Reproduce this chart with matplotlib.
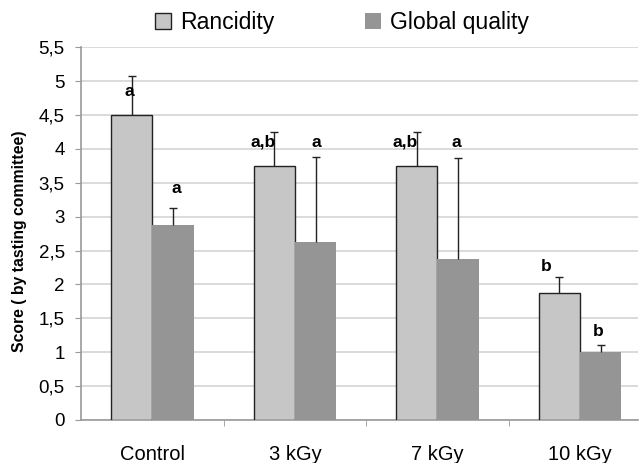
import matplotlib
matplotlib.use("Agg")
import matplotlib.pyplot as plt
from matplotlib.ticker import FuncFormatter, FixedLocator
from matplotlib.patches import Patch
import numpy as np

plt.rcParams['font.family'] = ['Liberation Sans', 'DejaVu Sans']

groups = ["Control", "3 kGy", "7 kGy", "10 kGy"]
rancidity = [4.5, 3.75, 3.75, 1.87]
rancidity_err = [0.57, 0.5, 0.5, 0.24]
global_q = [2.87, 2.63, 2.37, 1.0]
global_err = [0.26, 1.25, 1.49, 0.11]
rancidity_letters = ["a", "a,b", "a,b", "b"]
global_letters = ["a", "a", "a", "b"]

fig = plt.figure(figsize=(6.39, 4.63), dpi=100)
ax = fig.add_axes([0.127, 0.093, 0.872, 0.805])

x = np.arange(len(groups))
w = 0.29
ax.bar(x - w / 2, rancidity, w, color="#c6c6c6", edgecolor="#222222", linewidth=1.0, zorder=3)
ax.bar(x + w / 2, global_q, w, color="#959595", edgecolor="none", zorder=3)


def up_errors(xs, ys, errs):
    # only the upper half of the error bar, cap on top
    eb = ax.errorbar(xs, ys, yerr=[np.zeros(len(ys)), errs], fmt="none",
                     ecolor="#222222", elinewidth=1.0, capsize=3, capthick=1.0, zorder=4)
    for cl in eb[1]:
        if np.allclose(cl.get_ydata(), ys):
            cl.set_visible(False)


up_errors(x - w / 2, rancidity, rancidity_err)
up_errors(x + w / 2, global_q, global_err)

# letter positions (x, y) in data coords
r_pos = [(-0.16, 4.85), (0.775, 4.10), (1.77, 4.10), (2.76, 2.26)]
g_pos = [(0.17, 3.41), (1.15, 4.10), (2.13, 4.10), (3.13, 1.31)]
for (px, py), t in zip(r_pos, rancidity_letters):
    ax.text(px, py, t, ha="center", va="center", fontsize=12.5, fontweight="bold", zorder=5)
for (px, py), t in zip(g_pos, global_letters):
    ax.text(px, py, t, ha="center", va="center", fontsize=12.5, fontweight="bold", zorder=5)

ax.set_xlim(-0.5, 3.41)
ax.set_ylim(0, 5.5)
ax.set_yticks(np.arange(0, 5.51, 0.5))
ax.yaxis.set_major_formatter(FuncFormatter(lambda v, p: ("%g" % v).replace(".", ",")))
ax.yaxis.grid(True, color="#d4d4d4", linewidth=1.2, zorder=0)
ax.set_axisbelow(True)

ax.set_xticks(x)
ax.set_xticklabels(groups, fontsize=14.5)
ax.xaxis.set_minor_locator(FixedLocator([0.5, 1.5, 2.5]))
ax.tick_params(axis="x", which="major", length=0, pad=18)
ax.tick_params(axis="x", which="minor", length=4, color="#999999")
ax.tick_params(axis="y", labelsize=13.5, length=4.3, color="#999999", pad=7.5)

for s in ["top", "right"]:
    ax.spines[s].set_visible(False)
for s in ["left", "bottom"]:
    ax.spines[s].set_color("#999999")
    ax.spines[s].set_linewidth(1.2)

ax.set_ylabel("Score ( by tasting committee)", fontsize=11.3, fontweight="bold")
ax.yaxis.set_label_coords(-0.098, 0.48)

handles = [Patch(facecolor="#c6c6c6", edgecolor="#222222", label="Rancidity"),
           Patch(facecolor="#959595", edgecolor="none", label="Global quality")]
fig.legend(handles=handles, loc="center", bbox_to_anchor=(0.535, 0.952), ncol=2,
           frameon=False, fontsize=16.6, handlelength=0.7, handleheight=0.7,
           handletextpad=0.4, columnspacing=3.9)

fig.savefig("out.png", dpi=100)
